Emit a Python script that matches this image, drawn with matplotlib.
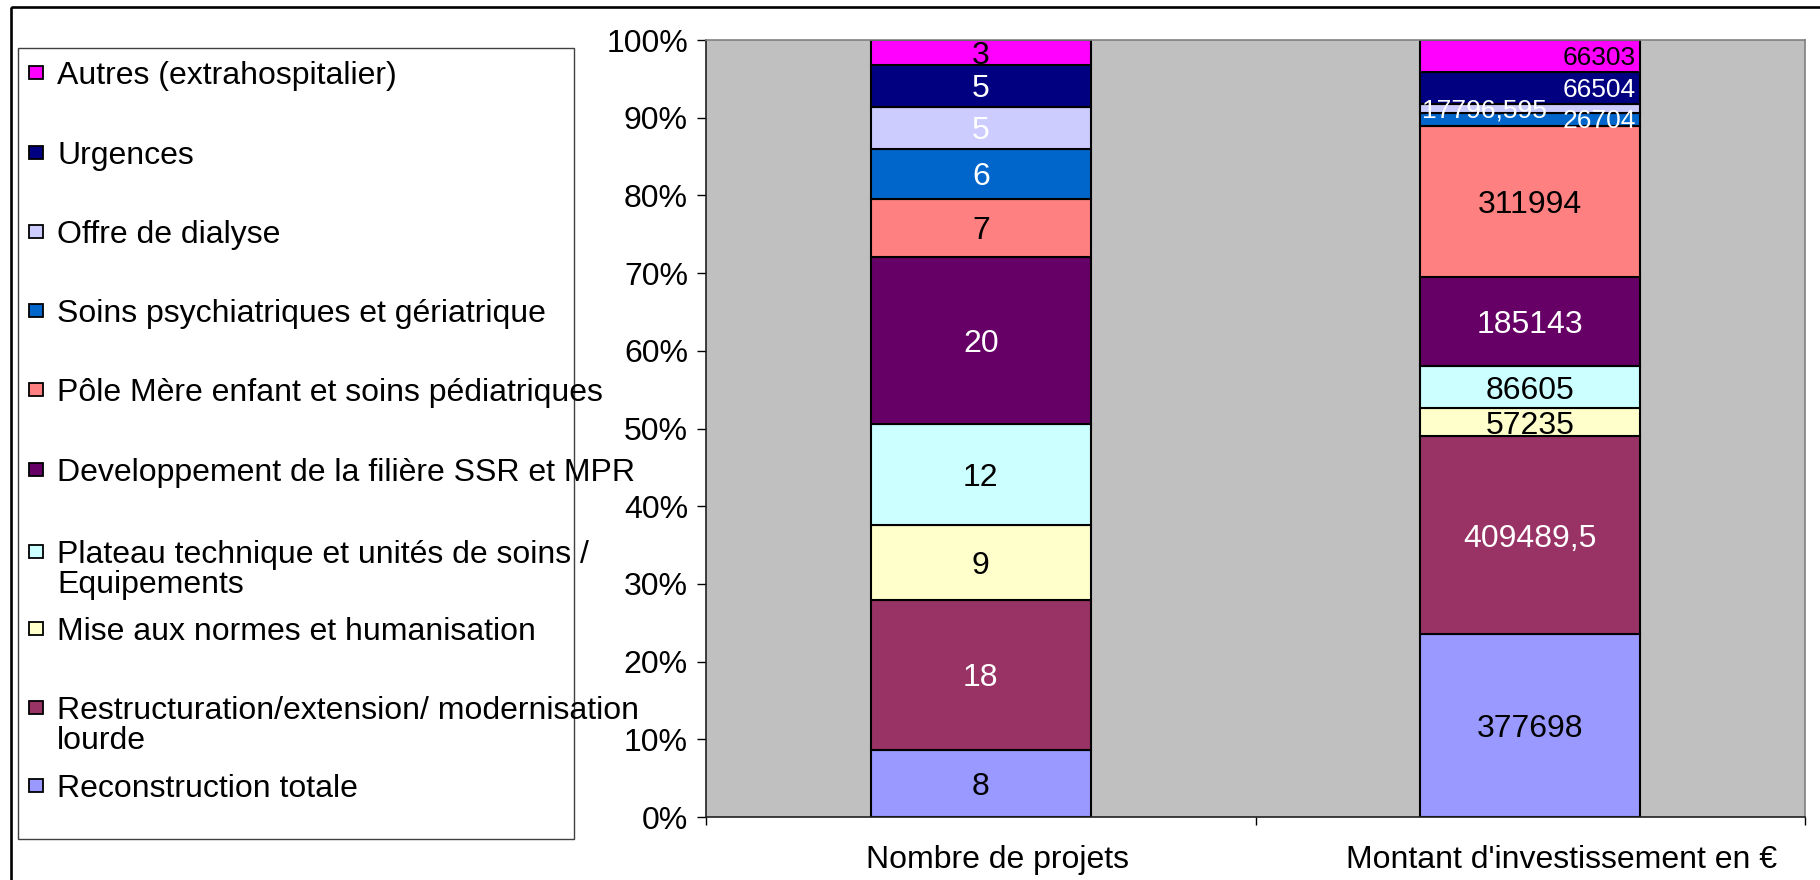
import matplotlib
matplotlib.use("Agg")
import matplotlib.pyplot as plt
import matplotlib.transforms as mtransforms
from matplotlib.patches import Rectangle
import numpy as np

plt.rcParams['font.family'] = ['Liberation Sans', 'DejaVu Sans']

# ---------------- data ----------------
categories = ["Nombre de projets", "Montant d'investissement en €"]
series_names = [
    "Reconstruction totale",
    "Restructuration/extension/ modernisation\nlourde",
    "Mise aux normes et humanisation",
    "Plateau technique et unités de soins /\nEquipements",
    "Developpement de la filière SSR et MPR",
    "Pôle Mère enfant et soins pédiatriques",
    "Soins psychiatriques et gériatrique",
    "Offre de dialyse",
    "Urgences",
    "Autres (extrahospitalier)",
]
nombre_projets = [8, 18, 9, 12, 20, 7, 6, 5, 5, 3]
montant_investissement = [377698, 409489.5, 57235, 86605, 185143, 311994,
                          26704, 17796.595, 66504, 66303]
y_tick_values = [0, 10, 20, 30, 40, 50, 60, 70, 80, 90, 100]

# ---------------- styles ----------------
colors = ["#9999FF", "#993366", "#FFFFCC", "#CCFFFF", "#660066",
          "#FF8080", "#0066CC", "#CCCCFF", "#000080", "#FF00FF"]
label_colors = ["black", "white", "black", "black", "white",
                "black", "white", "white", "white", "black"]
# special placement of some labels in the second bar (series index -> (ha, size))
special_right = {6: ("right", 19), 7: ("left", 19), 8: ("right", 19), 9: ("right", 19)}

W, H = 1820, 880
FS = 23
fig = plt.figure(figsize=(W / 100, H / 100), dpi=100)
px = mtransforms.Affine2D().scale(1 / W, -1 / H).translate(0, 1) + fig.transFigure

ax = fig.add_axes([706 / W, 1 - 817 / H, (1805 - 706) / W, (817 - 40) / H])
ax.set_facecolor("#C0C0C0")

def fmt(v):
    s = ("%.3f" % v).rstrip("0").rstrip(".")
    return s.replace(".", ",")

data = np.array([nombre_projets, montant_investissement], dtype=float)  # shape (2, n)
totals = data.sum(axis=1)
pct = data / totals[:, None] * 100
xpos = np.arange(len(categories))
width = 0.4
bottoms = np.zeros(len(categories))
for i, name in enumerate(series_names):
    vals = pct[:, i]
    ax.bar(xpos, vals, width, bottom=bottoms, color=colors[i],
           edgecolor="black", linewidth=1.5, zorder=2, label=name)
    for j in range(len(categories)):
        yc = bottoms[j] + vals[j] / 2
        txt = fmt(data[j, i])
        if j == 1 and i in special_right:
            ha, size = special_right[i]
            if ha == "right":
                ax.annotate(txt, (xpos[j] + width / 2, yc), xytext=(-3, -1.5),
                            textcoords="offset points", ha="right", va="center",
                            fontsize=size, color=label_colors[i], zorder=4)
            else:
                ax.annotate(txt, (xpos[j] - width / 2, yc), xytext=(1.5, -1.5),
                            textcoords="offset points", ha="left", va="center",
                            fontsize=size, color=label_colors[i], zorder=3)
        else:
            ax.annotate(txt, (xpos[j], yc), xytext=(0, -2.5),
                        textcoords="offset points", ha="center", va="center",
                        fontsize=FS, color=label_colors[i], zorder=3)
    bottoms = bottoms + vals

ax.set_ylim(0, 100)
ax.set_xlim(-0.5, len(categories) - 0.5)
ax.set_yticks(y_tick_values)
ax.set_yticklabels([f"{v}%" for v in y_tick_values])
ax.set_xticks(xpos)
ax.set_xticklabels(categories)
ax.set_xticks([-0.5, 0.5, 1.5], minor=True)
ax.tick_params(axis="y", length=6.5, width=1, direction="out", pad=6.5,
               labelsize=FS, colors="black")
ax.tick_params(axis="x", which="major", length=0, pad=20, labelsize=FS)
ax.tick_params(axis="x", which="minor", length=6, width=1, direction="out")
# Excel-like slight rightward offset of category labels
for lbl, dx in zip(ax.get_xticklabels(), [17, 31]):
    lbl.set_transform(lbl.get_transform() +
                      mtransforms.ScaledTranslation(dx / 100, 0, fig.dpi_scale_trans))
for s in ["left", "bottom"]:
    ax.spines[s].set_color("#202020")
    ax.spines[s].set_linewidth(1.2)
for s in ["top", "right"]:
    ax.spines[s].set_color("#808080")
    ax.spines[s].set_linewidth(1.2)

# ---------------- outer frame ----------------
fig.patches.append(Rectangle((11, 7), 1900, 1000, transform=px, fill=False,
                             edgecolor="black", linewidth=1.9))

# ---------------- legend (manual, Excel-like) ----------------
fig.patches.append(Rectangle((18, 48), 556, 791, transform=px, fill=False,
                             edgecolor="#404040", linewidth=1.0))
legend_first_line_y = [73, 153, 232, 311, 390, 470, 552, 629, 708, 786]
line_pitch = 30
for k, i in enumerate(range(len(series_names) - 1, -1, -1)):
    y0 = legend_first_line_y[k]
    fig.patches.append(Rectangle((29, y0 - 6.5), 14, 13, transform=px,
                                 facecolor=colors[i], edgecolor="black",
                                 linewidth=1.3))
    # each wrapped line of the label is drawn as its own text line
    for n, line in enumerate(series_names[i].split("\n")):
        fig.text(57, y0 + 3 + n * line_pitch, line,
                 transform=px, ha="left", va="center", fontsize=FS)

fig.savefig("out.png", dpi=100)
